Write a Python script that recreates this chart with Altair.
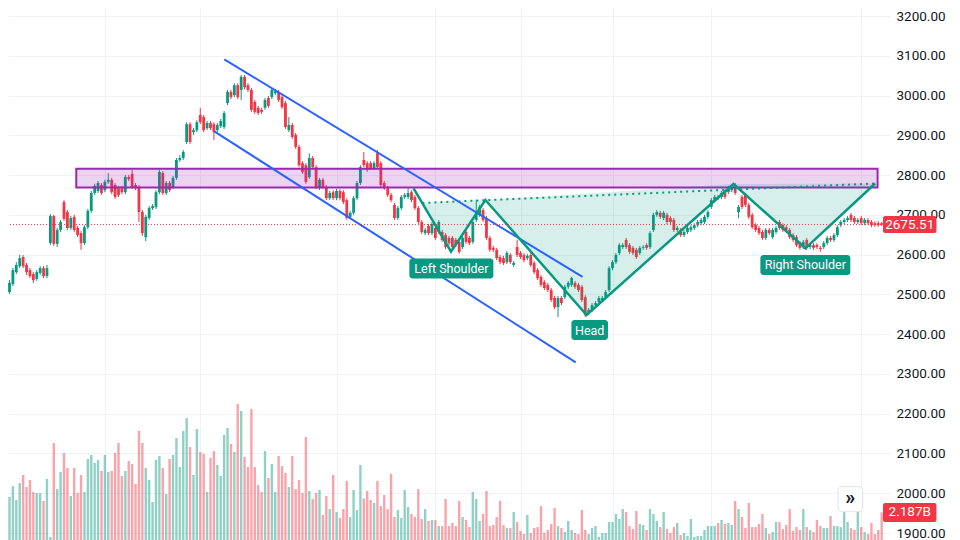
import altair as alt
import pandas as pd
import numpy as np

# ---------------- data (daily candles) ----------------
OPEN = [2486, 2506, 2526, 2556, 2571, 2594, 2574, 2561, 2551, 2539,
        2554, 2566, 2546, 2629, 2697, 2627, 2662, 2732, 2707, 2667,
        2695, 2667, 2654, 2629, 2669, 2710, 2755, 2760, 2775, 2762,
        2783, 2788, 2775, 2767, 2767, 2757, 2795, 2803, 2775, 2770,
        2707, 2644, 2692, 2717, 2720, 2757, 2805, 2755, 2780, 2770,
        2793, 2838, 2843, 2883, 2928, 2908, 2913, 2951, 2946, 2918,
        2931, 2928, 2913, 2923, 2921, 2981, 3009, 3001, 3026, 3014,
        3047, 3026, 3014, 2984, 2969, 2964, 2969, 2994, 2996, 3006,
        3009, 2996, 2981, 2913, 2926, 2901, 2871, 2830, 2825, 2795,
        2843, 2820, 2770, 2788, 2770, 2742, 2757, 2742, 2760, 2757,
        2737, 2695, 2705, 2742, 2780, 2838, 2830, 2830, 2818, 2855,
        2830, 2780, 2767, 2750, 2725, 2692, 2717, 2745, 2745, 2757,
        2745, 2717, 2682, 2654, 2672, 2654, 2667, 2657, 2657, 2649,
        2642, 2642, 2637, 2632, 2619, 2657, 2642, 2632, 2687, 2700,
        2712, 2692, 2642, 2617, 2612, 2594, 2591, 2581, 2599, 2574,
        2619, 2604, 2599, 2591, 2599, 2579, 2561, 2544, 2531, 2524,
        2511, 2491, 2468, 2491, 2493, 2519, 2524, 2529, 2524, 2519,
        2493, 2453, 2461, 2473, 2481, 2486, 2493, 2511, 2566, 2581,
        2604, 2619, 2637, 2624, 2617, 2612, 2604, 2617, 2624, 2619,
        2662, 2700, 2705, 2692, 2700, 2692, 2687, 2662, 2662, 2649,
        2657, 2662, 2667, 2674, 2679, 2682, 2695, 2720, 2737, 2745,
        2745, 2757, 2757, 2762, 2775, 2707, 2745, 2750, 2725, 2700,
        2674, 2667, 2657, 2642, 2662, 2644, 2657, 2682, 2674, 2669,
        2662, 2649, 2644, 2629, 2619, 2637, 2619, 2624, 2624, 2617,
        2619, 2629, 2642, 2637, 2649, 2674, 2682, 2687, 2700, 2692,
        2682, 2692, 2679, 2687, 2682, 2679, 2679, 2679]

CLOSE = [2511, 2529, 2561, 2574, 2591, 2571, 2556, 2546, 2536, 2556,
         2566, 2546, 2566, 2697, 2627, 2662, 2682, 2690, 2667, 2692,
         2662, 2649, 2629, 2669, 2710, 2755, 2773, 2780, 2755, 2783,
         2788, 2757, 2745, 2750, 2757, 2795, 2790, 2770, 2767, 2707,
         2654, 2695, 2717, 2722, 2757, 2808, 2755, 2780, 2762, 2793,
         2838, 2843, 2858, 2928, 2883, 2913, 2933, 2933, 2913, 2931,
         2918, 2908, 2926, 2936, 2956, 3009, 2996, 3026, 2996, 3047,
         3021, 3014, 2964, 2959, 2956, 2959, 2989, 2974, 3014, 3011,
         2989, 2971, 2921, 2926, 2896, 2871, 2825, 2808, 2783, 2843,
         2820, 2770, 2788, 2770, 2742, 2755, 2742, 2760, 2742, 2732,
         2692, 2705, 2742, 2780, 2820, 2825, 2813, 2818, 2830, 2820,
         2775, 2767, 2750, 2737, 2692, 2717, 2745, 2750, 2755, 2737,
         2717, 2682, 2657, 2662, 2654, 2677, 2642, 2682, 2637, 2619,
         2629, 2619, 2624, 2607, 2642, 2632, 2629, 2682, 2705, 2720,
         2687, 2642, 2612, 2612, 2591, 2581, 2579, 2604, 2581, 2579,
         2599, 2594, 2586, 2597, 2574, 2556, 2541, 2524, 2516, 2511,
         2486, 2468, 2491, 2478, 2519, 2529, 2541, 2519, 2511, 2486,
         2448, 2461, 2473, 2478, 2491, 2491, 2506, 2566, 2581, 2599,
         2624, 2624, 2619, 2607, 2604, 2594, 2617, 2619, 2617, 2654,
         2700, 2707, 2695, 2705, 2682, 2682, 2662, 2667, 2649, 2657,
         2667, 2669, 2674, 2682, 2687, 2695, 2707, 2737, 2745, 2742,
         2755, 2745, 2767, 2770, 2755, 2720, 2720, 2725, 2695, 2669,
         2662, 2654, 2642, 2662, 2654, 2662, 2667, 2667, 2662, 2662,
         2644, 2637, 2624, 2617, 2632, 2617, 2624, 2617, 2619, 2614,
         2629, 2642, 2637, 2649, 2669, 2682, 2687, 2692, 2687, 2682,
         2687, 2679, 2687, 2679, 2674, 2674, 2674, 2675.51]

HIGH = [2519, 2536, 2566, 2581, 2599, 2599, 2579, 2566, 2556, 2561,
        2571, 2571, 2574, 2702, 2700, 2667, 2687, 2737, 2712, 2697,
        2700, 2672, 2659, 2674, 2715, 2760, 2778, 2785, 2780, 2788,
        2805, 2793, 2780, 2773, 2773, 2800, 2800, 2813, 2780, 2775,
        2712, 2700, 2722, 2727, 2762, 2813, 2810, 2785, 2785, 2798,
        2843, 2850, 2863, 2933, 2933, 2918, 2938, 2969, 2951, 2936,
        2936, 2933, 2931, 2941, 2961, 3014, 3014, 3031, 3031, 3052,
        3052, 3031, 3019, 2989, 2974, 2969, 2994, 2999, 3019, 3016,
        3014, 3001, 2986, 2946, 2931, 2906, 2876, 2835, 2830, 2855,
        2848, 2825, 2793, 2793, 2775, 2760, 2762, 2765, 2765, 2762,
        2742, 2710, 2747, 2785, 2825, 2858, 2835, 2835, 2835, 2863,
        2835, 2785, 2773, 2755, 2730, 2722, 2750, 2755, 2767, 2762,
        2750, 2722, 2687, 2667, 2677, 2682, 2672, 2687, 2662, 2654,
        2647, 2647, 2642, 2637, 2647, 2662, 2647, 2687, 2737, 2725,
        2717, 2697, 2647, 2622, 2617, 2599, 2597, 2609, 2604, 2584,
        2637, 2609, 2604, 2602, 2604, 2584, 2566, 2549, 2536, 2529,
        2516, 2496, 2496, 2496, 2524, 2534, 2544, 2534, 2529, 2524,
        2498, 2466, 2478, 2483, 2496, 2496, 2511, 2571, 2586, 2604,
        2629, 2629, 2642, 2629, 2622, 2617, 2622, 2624, 2629, 2659,
        2705, 2712, 2710, 2710, 2705, 2697, 2692, 2672, 2667, 2662,
        2672, 2674, 2679, 2687, 2692, 2700, 2712, 2742, 2750, 2750,
        2760, 2762, 2773, 2775, 2780, 2725, 2750, 2755, 2730, 2705,
        2679, 2672, 2662, 2667, 2667, 2667, 2672, 2687, 2679, 2674,
        2667, 2654, 2649, 2634, 2637, 2642, 2629, 2629, 2629, 2622,
        2634, 2647, 2647, 2654, 2674, 2687, 2692, 2697, 2705, 2697,
        2692, 2697, 2692, 2692, 2687, 2684, 2684, 2682]

LOW = [2478, 2501, 2521, 2551, 2566, 2566, 2549, 2541, 2529, 2534,
       2549, 2541, 2541, 2624, 2622, 2619, 2657, 2685, 2662, 2662,
       2657, 2644, 2612, 2624, 2664, 2705, 2750, 2755, 2750, 2757,
       2778, 2752, 2740, 2745, 2752, 2752, 2785, 2765, 2762, 2682,
       2647, 2634, 2687, 2712, 2715, 2752, 2750, 2750, 2757, 2765,
       2788, 2833, 2838, 2878, 2878, 2901, 2908, 2928, 2908, 2913,
       2913, 2888, 2908, 2918, 2916, 2976, 2991, 2996, 2991, 2989,
       3016, 3009, 2959, 2954, 2951, 2954, 2964, 2969, 2991, 3001,
       2984, 2966, 2916, 2908, 2891, 2866, 2820, 2803, 2778, 2790,
       2815, 2765, 2762, 2765, 2737, 2737, 2737, 2737, 2737, 2727,
       2687, 2690, 2700, 2737, 2775, 2820, 2808, 2813, 2813, 2815,
       2770, 2762, 2745, 2732, 2687, 2687, 2712, 2740, 2740, 2732,
       2712, 2677, 2652, 2649, 2649, 2649, 2637, 2652, 2632, 2614,
       2624, 2609, 2619, 2602, 2614, 2627, 2624, 2627, 2682, 2695,
       2682, 2637, 2607, 2607, 2586, 2576, 2574, 2576, 2576, 2569,
       2594, 2589, 2581, 2586, 2569, 2551, 2536, 2519, 2511, 2506,
       2481, 2463, 2443, 2473, 2488, 2514, 2519, 2514, 2506, 2481,
       2443, 2448, 2456, 2468, 2476, 2481, 2488, 2506, 2561, 2576,
       2599, 2614, 2614, 2602, 2599, 2589, 2599, 2612, 2612, 2614,
       2657, 2695, 2690, 2687, 2677, 2677, 2657, 2657, 2644, 2644,
       2652, 2657, 2662, 2669, 2674, 2677, 2690, 2715, 2732, 2737,
       2740, 2740, 2752, 2757, 2750, 2692, 2715, 2720, 2690, 2664,
       2657, 2649, 2637, 2637, 2649, 2639, 2652, 2662, 2657, 2657,
       2639, 2632, 2619, 2612, 2614, 2612, 2614, 2612, 2614, 2607,
       2614, 2624, 2632, 2632, 2644, 2669, 2677, 2682, 2682, 2677,
       2677, 2674, 2674, 2674, 2669, 2670, 2670, 2672]

VOLUME_B = [4.29, 3.42, 4.29, 3.18, 4.53, 5.17, 4.21, 4.77, 3.82, 3.74,
            3.74, 3.10, 4.85, 0.24, 7.71, 4.05, 5.41, 6.92, 5.72, 3.50,
            5.72, 3.74, 5.17, 3.82, 6.44, 6.76, 6.12, 6.36, 5.49, 6.76,
            5.41, 5.49, 6.92, 7.71, 5.09, 5.49, 6.28, 6.04, 4.45, 8.67,
            7.71, 5.72, 4.77, 3.02, 6.36, 6.68, 5.72, 3.66, 6.44, 6.76,
            8.11, 5.80, 8.67, 9.70, 7.39, 5.17, 8.82, 7.00, 6.84, 3.82,
            6.52, 7.08, 5.96, 5.09, 8.35, 8.90, 7.63, 7.00, 10.81, 10.26,
            6.60, 5.80, 10.41, 5.80, 4.37, 3.82, 7.08, 4.93, 6.04, 3.82,
            6.68, 5.88, 5.33, 4.21, 6.68, 4.05, 4.77, 3.74, 8.19, 3.90,
            3.26, 3.74, 3.98, 1.99, 3.50, 2.46, 5.17, 2.23, 1.75, 2.46,
            4.69, 1.83, 3.98, 2.39, 5.96, 3.30, 3.90, 3.18, 2.94, 4.69,
            2.70, 3.58, 2.46, 5.25, 1.83, 2.39, 1.75, 3.98, 2.62, 2.07,
            1.83, 4.05, 1.67, 2.46, 1.51, 1.59, 1.59, 1.11, 1.11, 3.26,
            1.11, 1.35, 1.11, 3.10, 1.83, 1.59, 1.03, 3.82, 3.26, 1.51,
            2.07, 3.90, 1.11, 1.19, 1.83, 3.10, 1.19, 0.95, 0.95, 2.23,
            1.43, 0.72, 0.48, 1.99, 0.56, 0.95, 1.03, 2.70, 0.56, 0.80,
            1.27, 2.54, 1.11, 0.95, 0.64, 1.51, 0.80, 0.56, 0.48, 2.39,
            0.80, 0.48, 0.95, 1.11, 0.24, 0.56, 0.56, 1.43, 1.43, 2.07,
            1.67, 2.46, 2.23, 1.11, 0.87, 2.31, 1.27, 1.19, 0.80, 2.46,
            2.07, 1.51, 1.03, 2.23, 0.87, 0.56, 1.03, 1.35, 0.40, 0.56,
            0.32, 1.67, 0.24, 0.32, 0.32, 0.80, 1.11, 1.11, 1.11, 1.35,
            1.59, 1.27, 1.35, 1.19, 3.10, 2.46, 1.83, 0.95, 2.94, 1.03,
            1.03, 1.27, 2.07, 0.95, 0.48, 0.64, 1.43, 1.43, 0.87, 1.19,
            2.46, 0.72, 1.03, 0.80, 2.46, 1.03, 0.80, 0.64, 1.59, 1.11,
            0.95, 0.95, 1.91, 1.11, 1.11, 1.03, 2.23, 1.43, 0.95, 0.80,
            2.23, 1.03, 0.64, 0.48, 1.35, 0.48, 0.80, 2.187]

N = len(OPEN)
assert all(len(a) == N for a in (CLOSE, HIGH, LOW, VOLUME_B)), \
    [len(a) for a in (OPEN, CLOSE, HIGH, LOW, VOLUME_B)]

PRICE_TICKS = [1900, 2000, 2100, 2200, 2300, 2400, 2500, 2600, 2700,
               2800, 2900, 3000, 3100, 3200]
PERIOD_STARTS = [29, 57, 97, 126, 151, 178, 207, 251]   # bar index of vertical grid lines

# drawings (bar index, price)
ZONE_I = [20.6, 255.8]
ZONE_P = [2769, 2816]
CHANNEL_I = [[64.05, 169.2], [61.1, 167.2]]
CHANNEL_P = [[3091, 2544], [2910, 2329]]
HS_I = [119.6, 130.6, 140.7, 170.4, 213.5, 234.6, 255.1]
HS_P = [2766.7, 2607.3, 2737.3, 2448.2, 2777.6, 2615.9, 2778.8]
HS_FILL_I = [122.2, 130.6, 140.7, 170.4, 213.5, 234.6, 255.1]
HS_FILL_LOW = [2730.0, 2607.3, 2737.3, 2448.2, 2777.6, 2615.9, 2778.8]
HS_FILL_TOP = [2730.0, 2733.3, 2737.3, 2753.7, 2777.6, 2778.2, 2778.8]
NECK_I = [122.2, 255.1]
NECK_P = [2730.0, 2778.8]
LABELS = ["Left Shoulder", "Head", "Right Shoulder"]
LABEL_I = [130.7, 171.3, 234.6]
LABEL_P = [2565.1, 2410.4, 2573.9]
LABEL_W = [85, 37, 91]          # box widths in px
BUTTON_I, BUTTON_P = 247.8, 1985.0

# ---------------- layout ----------------
W, H = 882, 532
PX_PER_I = 3.446
I_MIN = 7 / PX_PER_I
I_MAX = I_MIN + W / PX_PER_I
P_PER_PX = 2.5145
P_MAX = 3200 + 8 * P_PER_PX
P_MIN = P_MAX - H * P_PER_PX
PX_PER_P = 1 / P_PER_PX
V_PER_PX = 0.0795
V_MIN = 0.0
V_MAX = H * V_PER_PX

UP, DOWN = "#089981", "#f23645"
BLUE, PURPLE = "#2962ff", "#9c27b0"
FONT = "Roboto"
GRID = "#eff2f6"

XS = alt.Scale(domain=[I_MIN, I_MAX], nice=False, zero=False)
YS = alt.Scale(domain=[P_MIN, P_MAX], nice=False, zero=False)
VS = alt.Scale(domain=[V_MIN, V_MAX], nice=False, zero=False)
XAX = alt.Axis(values=PERIOD_STARTS, grid=True, gridColor=GRID, labels=False,
               ticks=False, domain=False, title=None)
YAX = alt.Axis(orient="right", values=PRICE_TICKS, format=".2f", grid=True,
               gridColor=GRID, ticks=False, domain=False, title=None,
               labelFont=FONT, labelFontSize=13.5, labelColor="#131722",
               labelPadding=6, labelOverlap=False)


def X(f="i"):
    return alt.X(f"{f}:Q", scale=XS, axis=XAX, title=None)


def Y(f="p"):
    return alt.Y(f"{f}:Q", scale=YS, axis=YAX, title=None)


def YV(f="v"):
    return alt.Y(f"{f}:Q", scale=VS, axis=None, title=None)


df = pd.DataFrame({"i": np.arange(N), "o": OPEN, "c": CLOSE, "h": HIGH,
                   "l": LOW, "v": VOLUME_B})
df["dir"] = np.where(df["c"] >= df["o"], "up", "down")
df["v0"] = 0.0
COLOR = alt.Color("dir:N", scale=alt.Scale(domain=["up", "down"], range=[UP, DOWN]),
                  legend=None)

# ---------------- volume pane ----------------
vol_bars = alt.Chart(df).mark_bar(size=2.4, opacity=0.45, clip=True).encode(
    x=X(), y=YV("v"), y2="v0:Q", color=COLOR)

last_vol = VOLUME_B[-1]
vlab = pd.DataFrame({"i": [I_MAX - 2 / PX_PER_I], "i2": [I_MAX + 52 / PX_PER_I],
                     "ic": [I_MAX + 25 / PX_PER_I],
                     "v": [last_vol - 9.5 * V_PER_PX], "v2": [last_vol + 9.5 * V_PER_PX],
                     "vc": [last_vol], "t": [f"{last_vol:.3f}B"]})
vol_box = alt.Chart(vlab).mark_rect(color=DOWN, cornerRadius=2, clip=False).encode(
    x=X("i"), x2="i2:Q", y=YV("v"), y2="v2:Q")
vol_txt = alt.Chart(vlab).mark_text(color="white", font=FONT, fontSize=13.5,
                                    baseline="middle").encode(
    x=X("ic"), y=YV("vc"), text="t:N")
vol_layer = alt.layer(vol_bars, vol_box, vol_txt)

# ---------------- price pane ----------------
wicks = alt.Chart(df).mark_rule(strokeWidth=1, clip=True).encode(
    x=X(), y=Y("l"), y2="h:Q", color=COLOR)
bodies = alt.Chart(df).mark_bar(size=2.8, clip=True).encode(
    x=X(), y=Y("o"), y2="c:Q", color=COLOR)

zone = alt.Chart(pd.DataFrame({"i": [ZONE_I[0]], "i2": [ZONE_I[1]],
                               "p": [ZONE_P[0]], "p2": [ZONE_P[1]]})).mark_rect(
    fill=PURPLE, fillOpacity=0.2, stroke=PURPLE, strokeWidth=2).encode(
    x=X("i"), x2="i2:Q", y=Y("p"), y2="p2:Q")

hs_fill = alt.Chart(pd.DataFrame({"i": HS_FILL_I, "p": HS_FILL_LOW,
                                  "p2": HS_FILL_TOP})).mark_area(
    color=UP, opacity=0.16).encode(x=X("i"), y=Y("p"), y2="p2:Q")

chan = alt.Chart(pd.DataFrame({"i": [a[0] for a in CHANNEL_I], "i2": [a[1] for a in CHANNEL_I],
                               "p": [a[0] for a in CHANNEL_P], "p2": [a[1] for a in CHANNEL_P]})
                 ).mark_rule(color=BLUE, strokeWidth=2).encode(
    x=X("i"), x2="i2:Q", y=Y("p"), y2="p2:Q")

zigzag = alt.Chart(pd.DataFrame({"i": HS_I, "p": HS_P, "k": range(len(HS_I))})).mark_line(
    color=UP, strokeWidth=2.5).encode(x=X("i"), y=Y("p"), order="k:Q")

neck = alt.Chart(pd.DataFrame({"i": [NECK_I[0]], "i2": [NECK_I[1]],
                               "p": [NECK_P[0]], "p2": [NECK_P[1]]})).mark_rule(
    color=UP, strokeWidth=2, strokeDash=[2, 4]).encode(
    x=X("i"), x2="i2:Q", y=Y("p"), y2="p2:Q")

last_line = alt.Chart(pd.DataFrame({"p": [CLOSE[-1]]})).mark_rule(
    color=DOWN, strokeWidth=1, strokeDash=[1, 2]).encode(y=Y("p"))

lab = pd.DataFrame({"t": LABELS, "ic": LABEL_I, "pc": LABEL_P})
lab["i"] = [c - w / 2 / PX_PER_I for c, w in zip(LABEL_I, LABEL_W)]
lab["i2"] = [c + w / 2 / PX_PER_I for c, w in zip(LABEL_I, LABEL_W)]
lab["p"] = [c - 10 / PX_PER_P for c in LABEL_P]
lab["p2"] = [c + 10 / PX_PER_P for c in LABEL_P]
lab_box = alt.Chart(lab).mark_rect(color=UP, cornerRadius=3).encode(
    x=X("i"), x2="i2:Q", y=Y("p"), y2="p2:Q")
lab_txt = alt.Chart(lab).mark_text(color="white", font=FONT, fontSize=12.5,
                                   baseline="middle", dy=0.5).encode(
    x=X("ic"), y=Y("pc"), text="t:N")

lp = CLOSE[-1]
plab = pd.DataFrame({"i": [I_MAX - 2 / PX_PER_I], "i2": [I_MAX + 52 / PX_PER_I],
                     "ic": [I_MAX + 25 / PX_PER_I],
                     "p": [lp - 8.5 / PX_PER_P], "p2": [lp + 8.5 / PX_PER_P],
                     "pc": [lp], "t": [f"{lp:.2f}"]})
price_box = alt.Chart(plab).mark_rect(color=DOWN, cornerRadius=2, clip=False).encode(
    x=X("i"), x2="i2:Q", y=Y("p"), y2="p2:Q")
price_txt = alt.Chart(plab).mark_text(color="white", font=FONT, fontSize=13.5,
                                      baseline="middle").encode(
    x=X("ic"), y=Y("pc"), text="t:N")

btn = pd.DataFrame({"i": [BUTTON_I - 12.5 / PX_PER_I], "i2": [BUTTON_I + 12.5 / PX_PER_I],
                    "p": [BUTTON_P - 12.5 / PX_PER_P], "p2": [BUTTON_P + 12.5 / PX_PER_P],
                    "ic": [BUTTON_I], "pc": [BUTTON_P], "t": ["»"]})
btn_box = alt.Chart(btn).mark_rect(fill="white", stroke="#e0e3eb", strokeWidth=1,
                                   cornerRadius=4).encode(
    x=X("i"), x2="i2:Q", y=Y("p"), y2="p2:Q")
btn_txt = alt.Chart(btn).mark_text(color="#131722", font=FONT, fontSize=20,
                                   fontWeight="bold", baseline="middle", dy=-1).encode(
    x=X("ic"), y=Y("pc"), text="t:N")

price_layer = alt.layer(wicks, bodies, zone, hs_fill, chan, zigzag, neck, last_line,
                        lab_box, lab_txt, btn_box, btn_txt, price_box, price_txt)

chart = alt.layer(vol_layer, price_layer).resolve_scale(y="independent").properties(
    width=W, height=H,
    autosize=alt.AutoSizeParams(type="none"),
    padding={"left": 0, "top": 0, "right": 62, "bottom": 0},
).configure_view(stroke=None)

chart.save("out.html", embed_options={"renderer": "svg", "actions": False})
